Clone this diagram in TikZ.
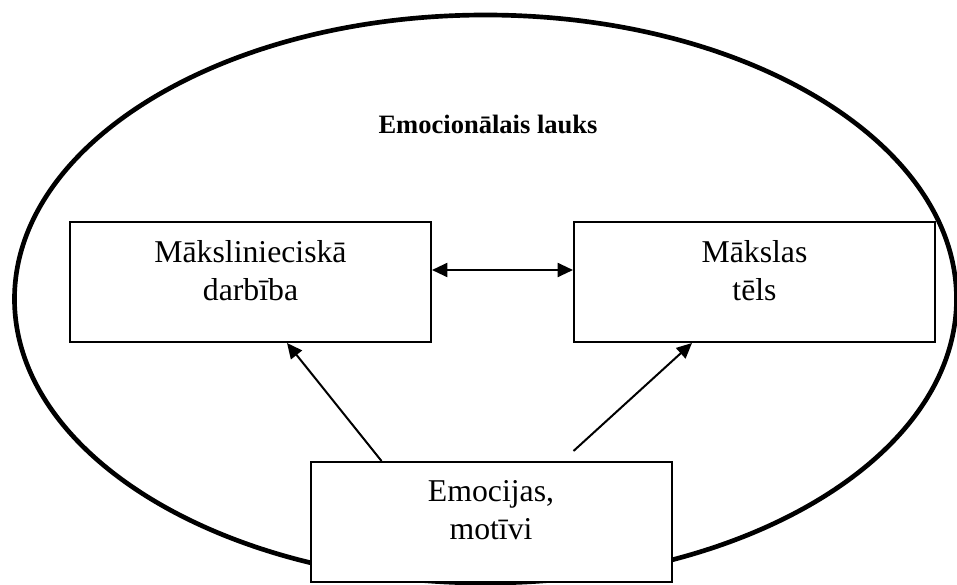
\documentclass[tikz,border=0pt]{standalone}
\usepackage{fontspec}
\setmainfont{Liberation Serif}
\usetikzlibrary{arrows.meta,calc}

\begin{document}
\begin{tikzpicture}[x=.75pt, y=-.75pt, line width=1.5pt, >={Triangle[length=11.5pt, width=10.5pt]},
    box/.style={draw=black, fill=white, minimum width=270.75pt, minimum height=90pt, inner sep=0pt},
    lbl/.style={anchor=north, yshift=-13.7pt, inner sep=0pt, align=center, font=\fontsize{23.8}{28.5}\selectfont}]
    \useasboundingbox (0,0) rectangle (957,585);
    \draw[line width=3.5pt] (485.5,299) ellipse [x radius=353.25pt, y radius=213pt];
    \node[font=\bfseries\fontsize{19.9}{24}\selectfont, anchor=base] (field) at (488,133) {Emocionālais lauks};

    \node[box, label={[lbl]north:Mākslinieciskā\\darbība}] (art) at (250.5,282) {};
    \node[box, label={[lbl]north:Mākslas\\tēls}] (image) at (754.5,282) {};
    \node[box, label={[lbl]north:Emocijas,\\motīvi}] (emo) at (491,522) {};

    \draw[<->] ($(art.east)+(0,-12)$) -- ($(image.west)+(0,-12)$);
    \draw[->] ($(emo.north west)+(72,0)$) -- ($(art.south west)+(218,0)$);
    \draw[->] ($(emo.north west)+(264,-10)$) -- ($(image.south west)+(119,0)$);
\end{tikzpicture}
\end{document}
